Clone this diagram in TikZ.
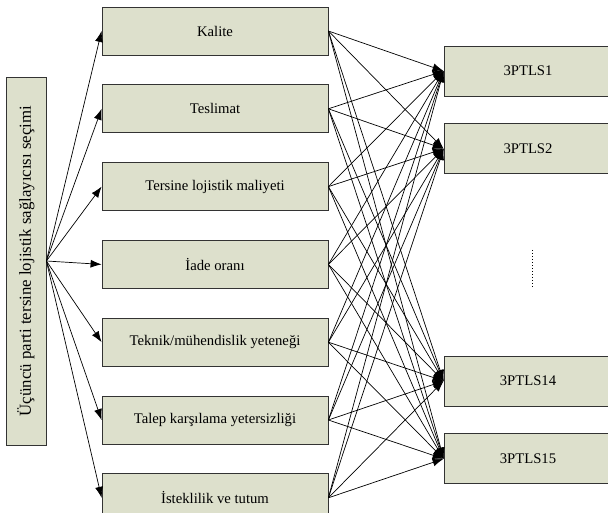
\documentclass[tikz,border=0pt]{standalone}
\usepackage{fontspec}
\setmainfont{Liberation Serif}
\usetikzlibrary{positioning}
\usetikzlibrary{arrows.meta}
\definecolor{boxfill}{RGB}{221,224,204}

\begin{document}
\begin{tikzpicture}[
  x=1pt,y=1pt,node distance=29pt,
  box/.style={draw=black!80,fill=boxfill,line width=0.8pt,inner sep=0pt,
    font=\fontsize{14.7}{17}\selectfont},
  crit/.style={box,minimum width=226pt,minimum height=48pt},
  alt/.style={box,minimum width=168pt,minimum height=50pt},
  link/.style={-{Latex[length=11pt,width=8pt]},line width=0.7pt}
  ]
  \clip (0,0) rectangle (608,-513);
  \node (goal)       [box,rotate=90,minimum width=368pt,minimum height=40pt,
                      font=\fontsize{16.8}{20}\selectfont] at (26,-261)
                     {Üçüncü parti tersine lojistik sağlayıcısı seçimi};
  \node (kalite)     [crit] at (215,-31) {Kalite};
  \node (teslimat)   [crit,below=of kalite] {Teslimat};
  \node (maliyet)    [crit,below=of teslimat] {Tersine lojistik maliyeti};
  \node (iade)       [crit,below=of maliyet] {İade oranı};
  \node (teknik)     [crit,below=of iade] {Teknik/mühendislik yeteneği};
  \node (talep)      [crit,below=of teknik] {Talep karşılama yetersizliği};
  \node (isteklilik) [crit,below=of talep] {İsteklilik ve tutum};
  \node (ptls1)      [alt] at (528,-71) {3PTLS1};
  \node (ptls2)      [alt,below=27pt of ptls1] {3PTLS2};
  \node (ptls14)     [alt] at (528,-381) {3PTLS14};
  \node (ptls15)     [alt,below=27pt of ptls14] {3PTLS15};
  \draw [dotted,line width=1pt] (532,-250) -- (532,-287);
  \foreach \c in {kalite,teslimat,maliyet,iade,teknik,talep,isteklilik}{
    \draw [link] (goal.south) -- (\c.west);
    \foreach \p in {ptls1,ptls2,ptls14,ptls15}
      \draw [link] (\c.east) -- (\p.west);
  }
\end{tikzpicture}
\end{document}
